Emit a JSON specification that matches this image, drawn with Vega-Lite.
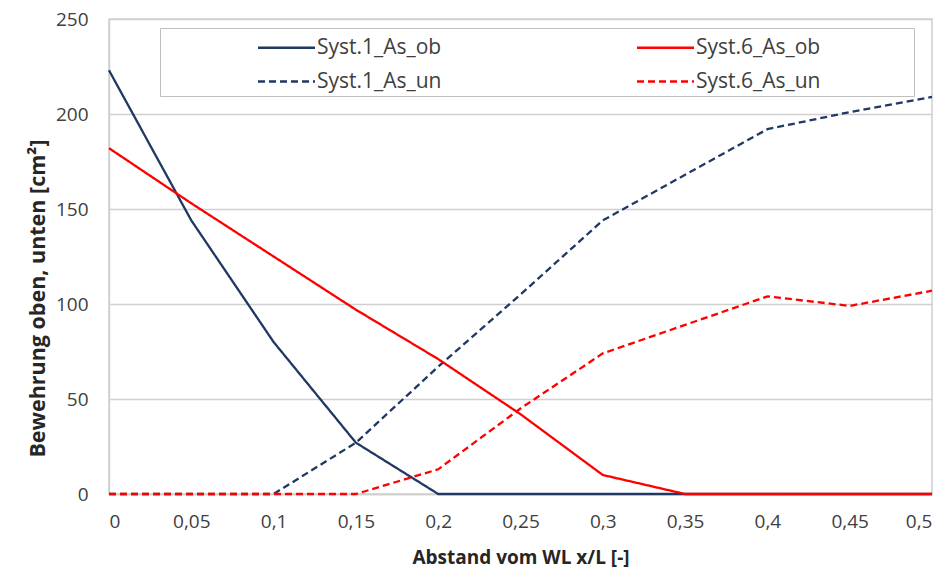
{
  "$schema": "https://vega.github.io/schema/vega-lite/v6.json",
  "width": 823,
  "height": 475,
  "autosize": {"type": "none"},
  "padding": {"left": 109, "top": 19, "right": 17, "bottom": 83},
  "background": "white",
  "config": {
    "font": "Open Sans",
    "view": {"stroke": "#d0d0d0", "strokeWidth": 1.5},
    "axis": {
      "labelFont": "Open Sans",
      "labelFontSize": 19,
      "labelColor": "#404040",
      "titleFont": "Open Sans",
      "titleFontWeight": "bold",
      "titleColor": "#262626",
      "gridColor": "#d0d0d0",
      "gridWidth": 1.5,
      "domainColor": "#d0d0d0",
      "domainWidth": 1.5,
      "ticks": false
    }
  },
  "data": {
    "values": [
      {"x": 0, "y": 223, "series": "Syst.1_As_ob"},
      {"x": 0.05, "y": 144, "series": "Syst.1_As_ob"},
      {"x": 0.1, "y": 80, "series": "Syst.1_As_ob"},
      {"x": 0.15, "y": 27, "series": "Syst.1_As_ob"},
      {"x": 0.2, "y": 0, "series": "Syst.1_As_ob"},
      {"x": 0.25, "y": 0, "series": "Syst.1_As_ob"},
      {"x": 0.3, "y": 0, "series": "Syst.1_As_ob"},
      {"x": 0.35, "y": 0, "series": "Syst.1_As_ob"},
      {"x": 0.4, "y": 0, "series": "Syst.1_As_ob"},
      {"x": 0.45, "y": 0, "series": "Syst.1_As_ob"},
      {"x": 0.5, "y": 0, "series": "Syst.1_As_ob"},
      {"x": 0, "y": 0, "series": "Syst.1_As_un"},
      {"x": 0.05, "y": 0, "series": "Syst.1_As_un"},
      {"x": 0.1, "y": 0, "series": "Syst.1_As_un"},
      {"x": 0.15, "y": 27, "series": "Syst.1_As_un"},
      {"x": 0.2, "y": 67, "series": "Syst.1_As_un"},
      {"x": 0.25, "y": 105, "series": "Syst.1_As_un"},
      {"x": 0.3, "y": 144, "series": "Syst.1_As_un"},
      {"x": 0.35, "y": 168, "series": "Syst.1_As_un"},
      {"x": 0.4, "y": 192, "series": "Syst.1_As_un"},
      {"x": 0.45, "y": 201, "series": "Syst.1_As_un"},
      {"x": 0.5, "y": 209, "series": "Syst.1_As_un"},
      {"x": 0, "y": 182, "series": "Syst.6_As_ob"},
      {"x": 0.05, "y": 153, "series": "Syst.6_As_ob"},
      {"x": 0.1, "y": 125, "series": "Syst.6_As_ob"},
      {"x": 0.15, "y": 97, "series": "Syst.6_As_ob"},
      {"x": 0.2, "y": 71, "series": "Syst.6_As_ob"},
      {"x": 0.25, "y": 42, "series": "Syst.6_As_ob"},
      {"x": 0.3, "y": 10, "series": "Syst.6_As_ob"},
      {"x": 0.35, "y": 0, "series": "Syst.6_As_ob"},
      {"x": 0.4, "y": 0, "series": "Syst.6_As_ob"},
      {"x": 0.45, "y": 0, "series": "Syst.6_As_ob"},
      {"x": 0.5, "y": 0, "series": "Syst.6_As_ob"},
      {"x": 0, "y": 0, "series": "Syst.6_As_un"},
      {"x": 0.05, "y": 0, "series": "Syst.6_As_un"},
      {"x": 0.1, "y": 0, "series": "Syst.6_As_un"},
      {"x": 0.15, "y": 0, "series": "Syst.6_As_un"},
      {"x": 0.2, "y": 13, "series": "Syst.6_As_un"},
      {"x": 0.25, "y": 45, "series": "Syst.6_As_un"},
      {"x": 0.3, "y": 74, "series": "Syst.6_As_un"},
      {"x": 0.35, "y": 89, "series": "Syst.6_As_un"},
      {"x": 0.4, "y": 104, "series": "Syst.6_As_un"},
      {"x": 0.45, "y": 99, "series": "Syst.6_As_un"},
      {"x": 0.5, "y": 107, "series": "Syst.6_As_un"}
    ]
  },
  "mark": {"type": "line", "strokeWidth": 2.3},
  "encoding": {
    "x": {
      "field": "x",
      "type": "quantitative",
      "scale": {"domain": [0, 0.5], "nice": false},
      "axis": {
        "title": "Abstand vom WL x/L [-]",
        "titleFontSize": 19,
        "values": [0, 0.05, 0.1, 0.15, 0.2, 0.25, 0.3, 0.35, 0.4, 0.45, 0.5],
        "labelExpr": "replace(format(datum.value, ''), '.', ',')",
        "grid": false,
        "labelPadding": 18,
        "titlePadding": 17
      }
    },
    "y": {
      "field": "y",
      "type": "quantitative",
      "scale": {"domain": [0, 250], "nice": false},
      "axis": {
        "title": "Bewehrung oben, unten [cm²]",
        "titleFontSize": 21.5,
        "values": [0, 50, 100, 150, 200, 250],
        "labelPadding": 21,
        "titlePadding": 6,
        "titleY": 279
      }
    },
    "color": {
      "field": "series",
      "type": "nominal",
      "scale": {
        "domain": ["Syst.1_As_ob", "Syst.6_As_ob", "Syst.1_As_un", "Syst.6_As_un"],
        "range": ["#203864", "#ff0000", "#203864", "#ff0000"]
      },
      "legend": {
        "title": " ",
        "titleOrient": "right",
        "titlePadding": 90,
        "orient": "none",
        "legendX": 51,
        "legendY": 9,
        "columns": 2,
        "direction": "horizontal",
        "symbolType": "M-2,0H2",
        "symbolSize": 812,
        "symbolStrokeWidth": 2.3,
        "symbolOffset": 107,
        "labelFont": "Open Sans",
        "labelFontSize": 21,
        "labelColor": "#404040",
        "labelOffset": 15,
        "columnPadding": 101,
        "rowPadding": 8,
        "padding": 4,
        "fillColor": "white",
        "strokeColor": "#bfbfbf"
      }
    },
    "strokeDash": {
      "field": "series",
      "type": "nominal",
      "scale": {
        "domain": ["Syst.1_As_ob", "Syst.6_As_ob", "Syst.1_As_un", "Syst.6_As_un"],
        "range": [[1, 0], [1, 0], [7, 4], [7, 4]]
      },
      "legend": null
    }
  }
}
